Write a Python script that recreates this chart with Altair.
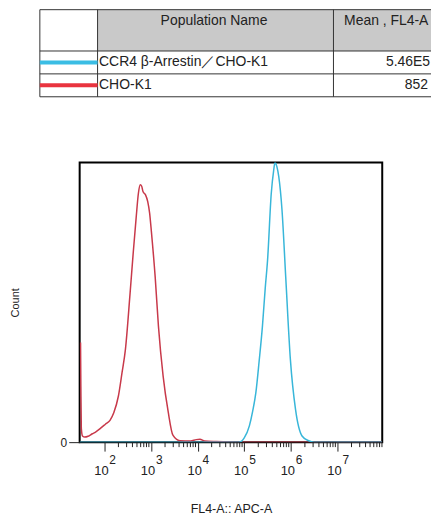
import altair as alt
import pandas as pd

# ---------------- data ----------------
header_labels = ["Population Name", "Mean , FL4-A"]
population_names = ["CCR4 β-Arrestin／CHO-K1", "CHO-K1"]
mean_fl4a = ["5.46E5", "852"]
legend_colors = ["#3bbde4", "#e9343f"]
line_colors = ["#38b6d9", "#c8394a"]

# CHO-K1 histogram (FL4-A intensity, relative count)
red_fl4 = [30.8, 31.3, 32.0, 33.9, 38.0, 44.7, 55.0, 64.6, 83.2, 105, 132, 159, 200, 240,
           282, 355, 417, 479, 537, 589, 631, 676, 759, 851, 933, 1023, 1230, 1445, 1820,
           2344, 2951, 4169, 7079, 9333, 11220, 14125, 25119, 100000, 91200000]
red_count = [35.6, 20, 5, 2.2, 1.8, 2.1, 3.0, 3.6, 5.0, 6.4, 7.8, 10.5, 16.5, 25,
             33, 53, 68, 80, 89, 92, 91.5, 89.5, 88.5, 86, 82, 75, 59, 41.4, 23.6,
             10.7, 2.5, 0.5, 0.4, 0.9, 1.0, 0.4, 0.2, 0, 0]

# CCR4 beta-Arrestin / CHO-K1 histogram
blue_fl4 = [29.5, 77600, 100000, 128800, 151400, 177800, 208900, 245500, 281800, 316200,
            380200, 426600, 457100, 501200, 549500, 645700, 776200, 977200, 1258900,
            1737800, 2398800, 3162300, 91200000]
blue_count = [0, 0, 1.5, 5.8, 11, 17.8, 29, 41.4, 55, 65,
              89, 97, 100, 98.5, 95, 83, 59, 29.5, 11.7,
              2.2, 0.5, 0, 0]

decades = [1e2, 1e3, 1e4, 1e5, 1e6, 1e7]
exponents = ["2", "3", "4", "5", "6", "7"]
minor_multipliers = [2, 3, 4, 5, 6, 7, 8, 9]

FONT = "Liberation Sans"
INK = "#222222"

# ---------------- table (legend) ----------------
# table panel shares its left origin with the histogram's plot area (page x = 79)
TX0, TX1 = 79, 432
TW, TH = TX1 - TX0, 92
tx = alt.Scale(domain=[TX0, TX1], nice=False, zero=False)
ty = alt.Scale(domain=[8, 100], nice=False, zero=False, reverse=True)
col_edges = [39, 97, 334, 432]
row_edges = [8.5, 50, 73, 96]
row_mid = [61.5, 84.5]

hdr_fill = pd.DataFrame({"x": [col_edges[1]], "x2": [col_edges[3]], "y": [row_edges[0]], "y2": [row_edges[1]]})
hlines = pd.DataFrame({"x": [col_edges[0]] * 4, "x2": [col_edges[3]] * 4, "y": row_edges})
vlines = pd.DataFrame({"x": col_edges[:3], "y": [row_edges[0]] * 3, "y2": [row_edges[3]] * 3})
swatch = pd.DataFrame({"x": [col_edges[0]] * 2, "x2": [col_edges[1]] * 2, "y": row_mid,
                       "name": population_names})
hdr_txt = pd.DataFrame({"x": [214, 387], "y": [20, 20], "t": header_labels})
name_txt = pd.DataFrame({"x": [98.5, 98.5], "y": row_mid, "t": population_names})
mean_txt = pd.DataFrame({"x": [431, 429], "y": row_mid, "t": mean_fl4a})

def X(f="x"):
    return alt.X(f + ":Q", scale=tx, axis=None)

def Y(f="y"):
    return alt.Y(f + ":Q", scale=ty, axis=None)

t_fill = alt.Chart(hdr_fill).mark_rect(color="#c9c9c9").encode(x=X(), x2="x2:Q", y=Y(), y2="y2:Q")
t_h = alt.Chart(hlines).mark_rule(color="#333333", strokeWidth=1).encode(x=X(), x2="x2:Q", y=Y())
t_v = alt.Chart(vlines).mark_rule(color="#333333", strokeWidth=1).encode(x=X(), y=Y(), y2="y2:Q")
t_sw = alt.Chart(swatch).mark_rule(strokeWidth=4).encode(
    x=X(), x2="x2:Q", y=Y(),
    color=alt.Color("name:N", scale=alt.Scale(domain=population_names, range=legend_colors), legend=None))
t_hdr = alt.Chart(hdr_txt).mark_text(font=FONT, fontSize=14, color=INK, align="center", baseline="middle").encode(
    x=X(), y=Y(), text="t:N")
t_name = alt.Chart(name_txt).mark_text(font=FONT, fontSize=14, color=INK, align="left", baseline="middle").encode(
    x=X(), y=Y(), text="t:N")
t_mean = alt.Chart(mean_txt).mark_text(font=FONT, fontSize=14, color=INK, align="right", baseline="middle").encode(
    x=X(), y=Y(), text="t:N")

table = alt.layer(t_fill, t_h, t_v, t_sw, t_hdr, t_name, t_mean).properties(width=TW, height=TH)

# ---------------- histogram ----------------
W, H = 304, 281
hx = alt.Scale(type="log", domain=[29.5, 91200000], nice=False)
hy = alt.Scale(domain=[0, 100], nice=False, zero=True)

x_axis = alt.Axis(values=decades, labels=False, tickSize=9, tickColor=INK, tickWidth=1,
                  domain=False, grid=False, title="FL4-A:: APC-A", titleFont=FONT, titleFontSize=12.5,
                  titleFontWeight="normal", titleColor=INK, titlePadding=51)
y_axis = alt.Axis(values=[0], format="d", tickSize=11, tickColor=INK, tickWidth=1,
                  labelFont=FONT, labelFontSize=12, labelColor=INK, labelPadding=2,
                  domain=False, grid=False, title="Count", titleFont=FONT, titleFontSize=11,
                  titleFontWeight="normal", titleColor=INK, titlePadding=40)

x_enc = alt.X("fl4:Q", scale=hx, axis=x_axis)
y_enc = alt.Y("count:Q", scale=hy, axis=y_axis)

red_df = pd.DataFrame({"fl4": red_fl4, "count": red_count})
blue_df = pd.DataFrame({"fl4": blue_fl4, "count": blue_count})
minor_df = pd.DataFrame({"fl4": [m * d for d in decades for m in minor_multipliers]})
exp_df = pd.DataFrame({"fl4": decades, "e": exponents, "b": ["10"] * len(decades)})

red_line = alt.Chart(red_df).mark_line(color=line_colors[1], strokeWidth=1.5, clip=True,
                                        interpolate="monotone").encode(x=x_enc, y=y_enc)
blue_line = alt.Chart(blue_df).mark_line(color=line_colors[0], strokeWidth=1.5, clip=True,
                                          interpolate="monotone").encode(x=x_enc, y=y_enc)
minor = alt.Chart(minor_df).mark_rule(color=INK, strokeWidth=1).encode(
    x=x_enc, y=alt.value(H), y2=alt.value(H + 5))
base10 = alt.Chart(exp_df).mark_text(font=FONT, fontSize=13, color=INK, align="center", baseline="middle",
                                     dx=-3).encode(x=x_enc, y=alt.value(H + 29), text="b:N")
sup = alt.Chart(exp_df).mark_text(font=FONT, fontSize=12, color=INK, align="left", baseline="middle",
                                  dx=5).encode(x=x_enc, y=alt.value(H + 18), text="e:N")

hist = alt.layer(red_line, blue_line, minor, base10, sup).properties(
    width=W, height=H, view=alt.ViewBackground(stroke="black", strokeWidth=2))

chart = alt.vconcat(table, hist, spacing=61).properties(
    padding={"left": 0, "top": 0, "right": 0, "bottom": -2.5}).configure_view(stroke=None)

chart.save("out.html", embed_options={"renderer": "svg", "actions": False})
